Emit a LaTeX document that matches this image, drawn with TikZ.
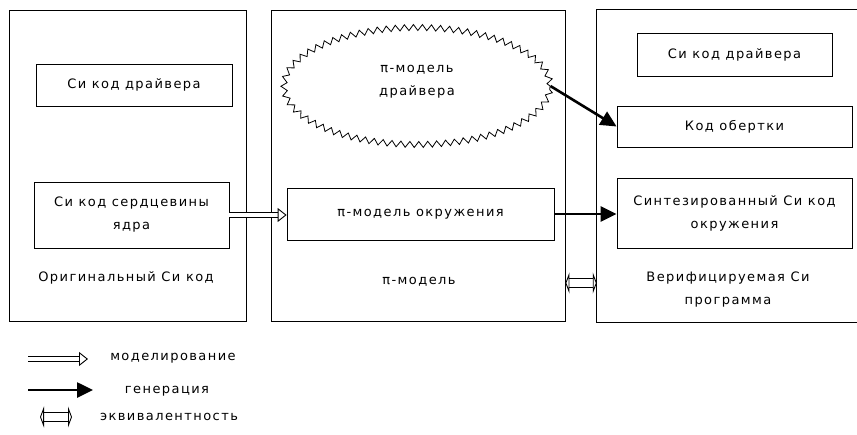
\documentclass[tikz,border=0pt]{standalone}
\usepackage{fontspec}
\setmainfont{DejaVu Sans}[LetterSpace=11]
\usetikzlibrary{positioning, calc, arrows.meta, decorations.pathmorphing, shapes.geometric}

\tikzset{
  panel/.style={draw, line width=0.8pt, minimum width=#1, minimum height=311pt, inner sep=0pt},
  codebox/.style={draw, line width=0.8pt, inner sep=0pt, align=center},
  lbl/.style={align=center, font=\fontsize{13}{23}\selectfont},
  model/.style={double, double distance=4.5pt, line width=0.9pt, -{Triangle[open, length=9pt, width=14pt, line width=0.9pt]}},
  gen/.style={line width=2.6pt, -{Triangle[length=16pt,width=15pt]}},
  equiv/.style={double, double distance=8pt, line width=0.9pt,
    {Triangle[open, length=4pt, width=21pt, line width=0.9pt]}-{Triangle[open, length=4pt, width=21pt, line width=0.9pt]}},
}

\begin{document}
\begin{tikzpicture}[x=1pt, y=-1pt]
        \useasboundingbox (0,0) rectangle (857,434);

        % three panels
        \node[panel=237pt] (orig) at (127.5,165.5) {};
        \node[panel=294pt] (pimod) at (418,165.5) {};
        \node[minimum width=260pt, minimum height=312pt, inner sep=0pt] (verif) at (727,166) {};
        \draw[line width=0.8pt] (verif.north east) -- (verif.north west)
            -- (verif.south west) -- (verif.south east);

        % original C code
        \node[codebox, minimum width=196pt, minimum height=42pt, lbl] (cdrv) at (134,85) {Си код драйвера};
        \node[codebox, minimum width=195pt, minimum height=66pt, lbl] (core) at (131.5,215) {Си код сердцевины\\ядра};
        \node[lbl] (origlbl) at (126,278) {Оригинальный Си код};

        % pi-model
        \node[ellipse, draw, line width=0.8pt, decorate,
              decoration={zigzag, segment length=9pt, amplitude=3pt},
              minimum width=266pt, minimum height=117pt, text depth=11pt, lbl] (pdrv) at (417,86) {π-модель\\драйвера};
        \node[codebox, minimum width=267pt, minimum height=52pt, lbl] (penv) at (420.5,214) {π-модель окружения};
        \node[lbl] (pilbl) at (419,282) {π-модель};

        % verified C program
        \node[codebox, minimum width=195pt, minimum height=43pt, lbl] (vdrv) at (734.5,54.5) {Си код драйвера};
        \node[codebox, minimum width=235pt, minimum height=41pt, lbl] (wrap) at (734.5,126.5) {Код обертки};
        \node[codebox, minimum width=235pt, minimum height=70pt, lbl] (senv) at (734.5,213) {Синтезированный Си код\\окружения};
        \node[lbl] (veriflbl) at (728,290) {Верифицируемая Си\\программа};

        % connectors
        \coordinate (eqy) at (0,283);
        \draw[model] (core.east) -- (core.east -| penv.west);
        \draw[gen] (pdrv.east) -- (wrap.west);
        \draw[gen] (penv.east) -- (penv.east -| senv.west);
        \draw[equiv] (pimod.east |- eqy) -- (verif.west |- eqy);

        % legend
        \coordinate (m0) at (28,359);
        \coordinate (m1) at (88,359);
        \coordinate (g0) at (28,390);
        \coordinate (g1) at (93,390);
        \coordinate (e0) at (40,417);
        \coordinate (e1) at (72,417);
        \draw[model] (m0) -- (m1);
        \draw[gen] (g0) -- (g1);
        \draw[equiv] (e0) -- (e1);
        \node[lbl] (mlbl) at (173,358) {моделирование};
        \node[lbl] (glbl) at (167,391) {генерация};
        \node[lbl] (elbl) at (169,417) {эквивалентность};

\end{tikzpicture}
\end{document}
